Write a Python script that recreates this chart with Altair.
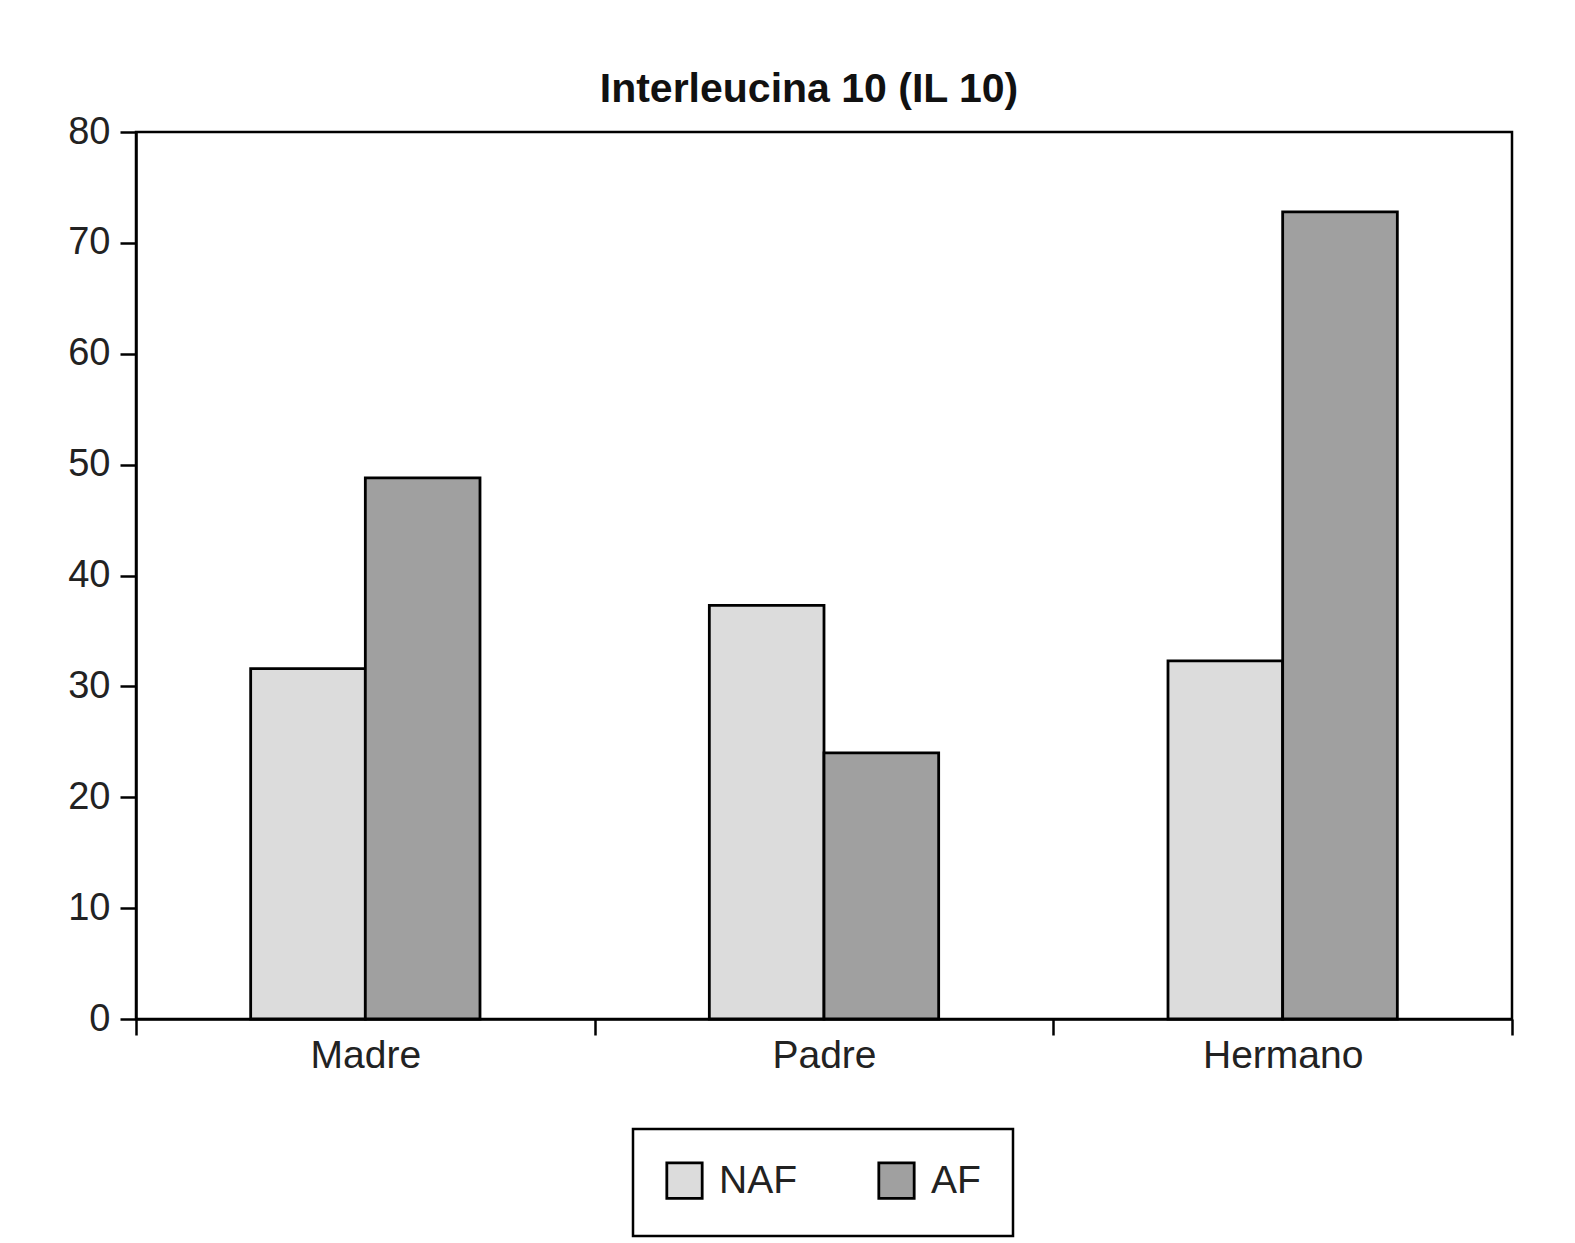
import altair as alt
import pandas as pd

categories = ["Madre", "Padre", "Hermano"]
groups = ["NAF", "AF"]
naf_values = [31.6, 37.3, 32.3]
af_values = [48.8, 24.0, 72.8]
colors = ["#dcdcdc", "#a0a0a0"]
y_ticks = [0, 10, 20, 30, 40, 50, 60, 70, 80]

rows = []
for c, n, a in zip(categories, naf_values, af_values):
    rows.append({"cat": c, "grupo": "NAF", "valor": n})
    rows.append({"cat": c, "grupo": "AF", "valor": a})
df = pd.DataFrame(rows)

FONT = "Liberation Sans"

chart = alt.Chart(df).mark_bar(stroke="black", strokeWidth=2.8).encode(
    x=alt.X("cat:N", sort=categories, title=None,
            scale=alt.Scale(paddingInner=0, paddingOuter=0),
            axis=alt.Axis(labelAngle=0, tickBand="extent", tickSize=16, tickWidth=2.5,
                          tickColor="black", domainColor="black", domainWidth=2.5,
                          labelFontSize=39, labelColor="#222", labelFont=FONT,
                          labelPadding=1, grid=False)),
    xOffset=alt.XOffset("grupo:N", sort=groups,
                        scale=alt.Scale(domain=groups, paddingInner=0, paddingOuter=1)),
    y=alt.Y("valor:Q", title=None,
            scale=alt.Scale(domain=[0, 80], nice=False),
            axis=alt.Axis(values=y_ticks, tickSize=16, tickWidth=2.5, tickColor="black",
                          domainColor="black", domainWidth=2.5, labelFontSize=38,
                          labelColor="#222", labelFont=FONT, labelPadding=10, grid=False)),
    color=alt.Color("grupo:N", sort=groups,
                    scale=alt.Scale(domain=groups, range=colors),
                    legend=alt.Legend(title=None, orient="none", direction="horizontal",
                                      legendX=497, legendY=997,
                                      symbolType="square", symbolSize=1250,
                                      symbolStrokeColor="black", symbolStrokeWidth=2.8,
                                      labelFontSize=39, labelColor="#222", labelFont=FONT,
                                      labelOffset=15, columnPadding=76, padding=32,
                                      strokeColor="black")),
).properties(
    width=1376,
    height=887,
    title=alt.TitleParams("Interleucina 10 (IL 10)", fontSize=41, fontWeight="bold",
                          font=FONT, color="#111", anchor="middle", dx=-15, offset=2),
    autosize=alt.AutoSizeParams(type="none"),
    padding={"left": 128, "top": 124, "right": 50, "bottom": 240},
).configure_view(
    stroke="black", strokeWidth=2.5
).configure_legend(
    strokeWidth=2.5
)

chart.save("out.html", embed_options={"renderer": "svg", "actions": False})
